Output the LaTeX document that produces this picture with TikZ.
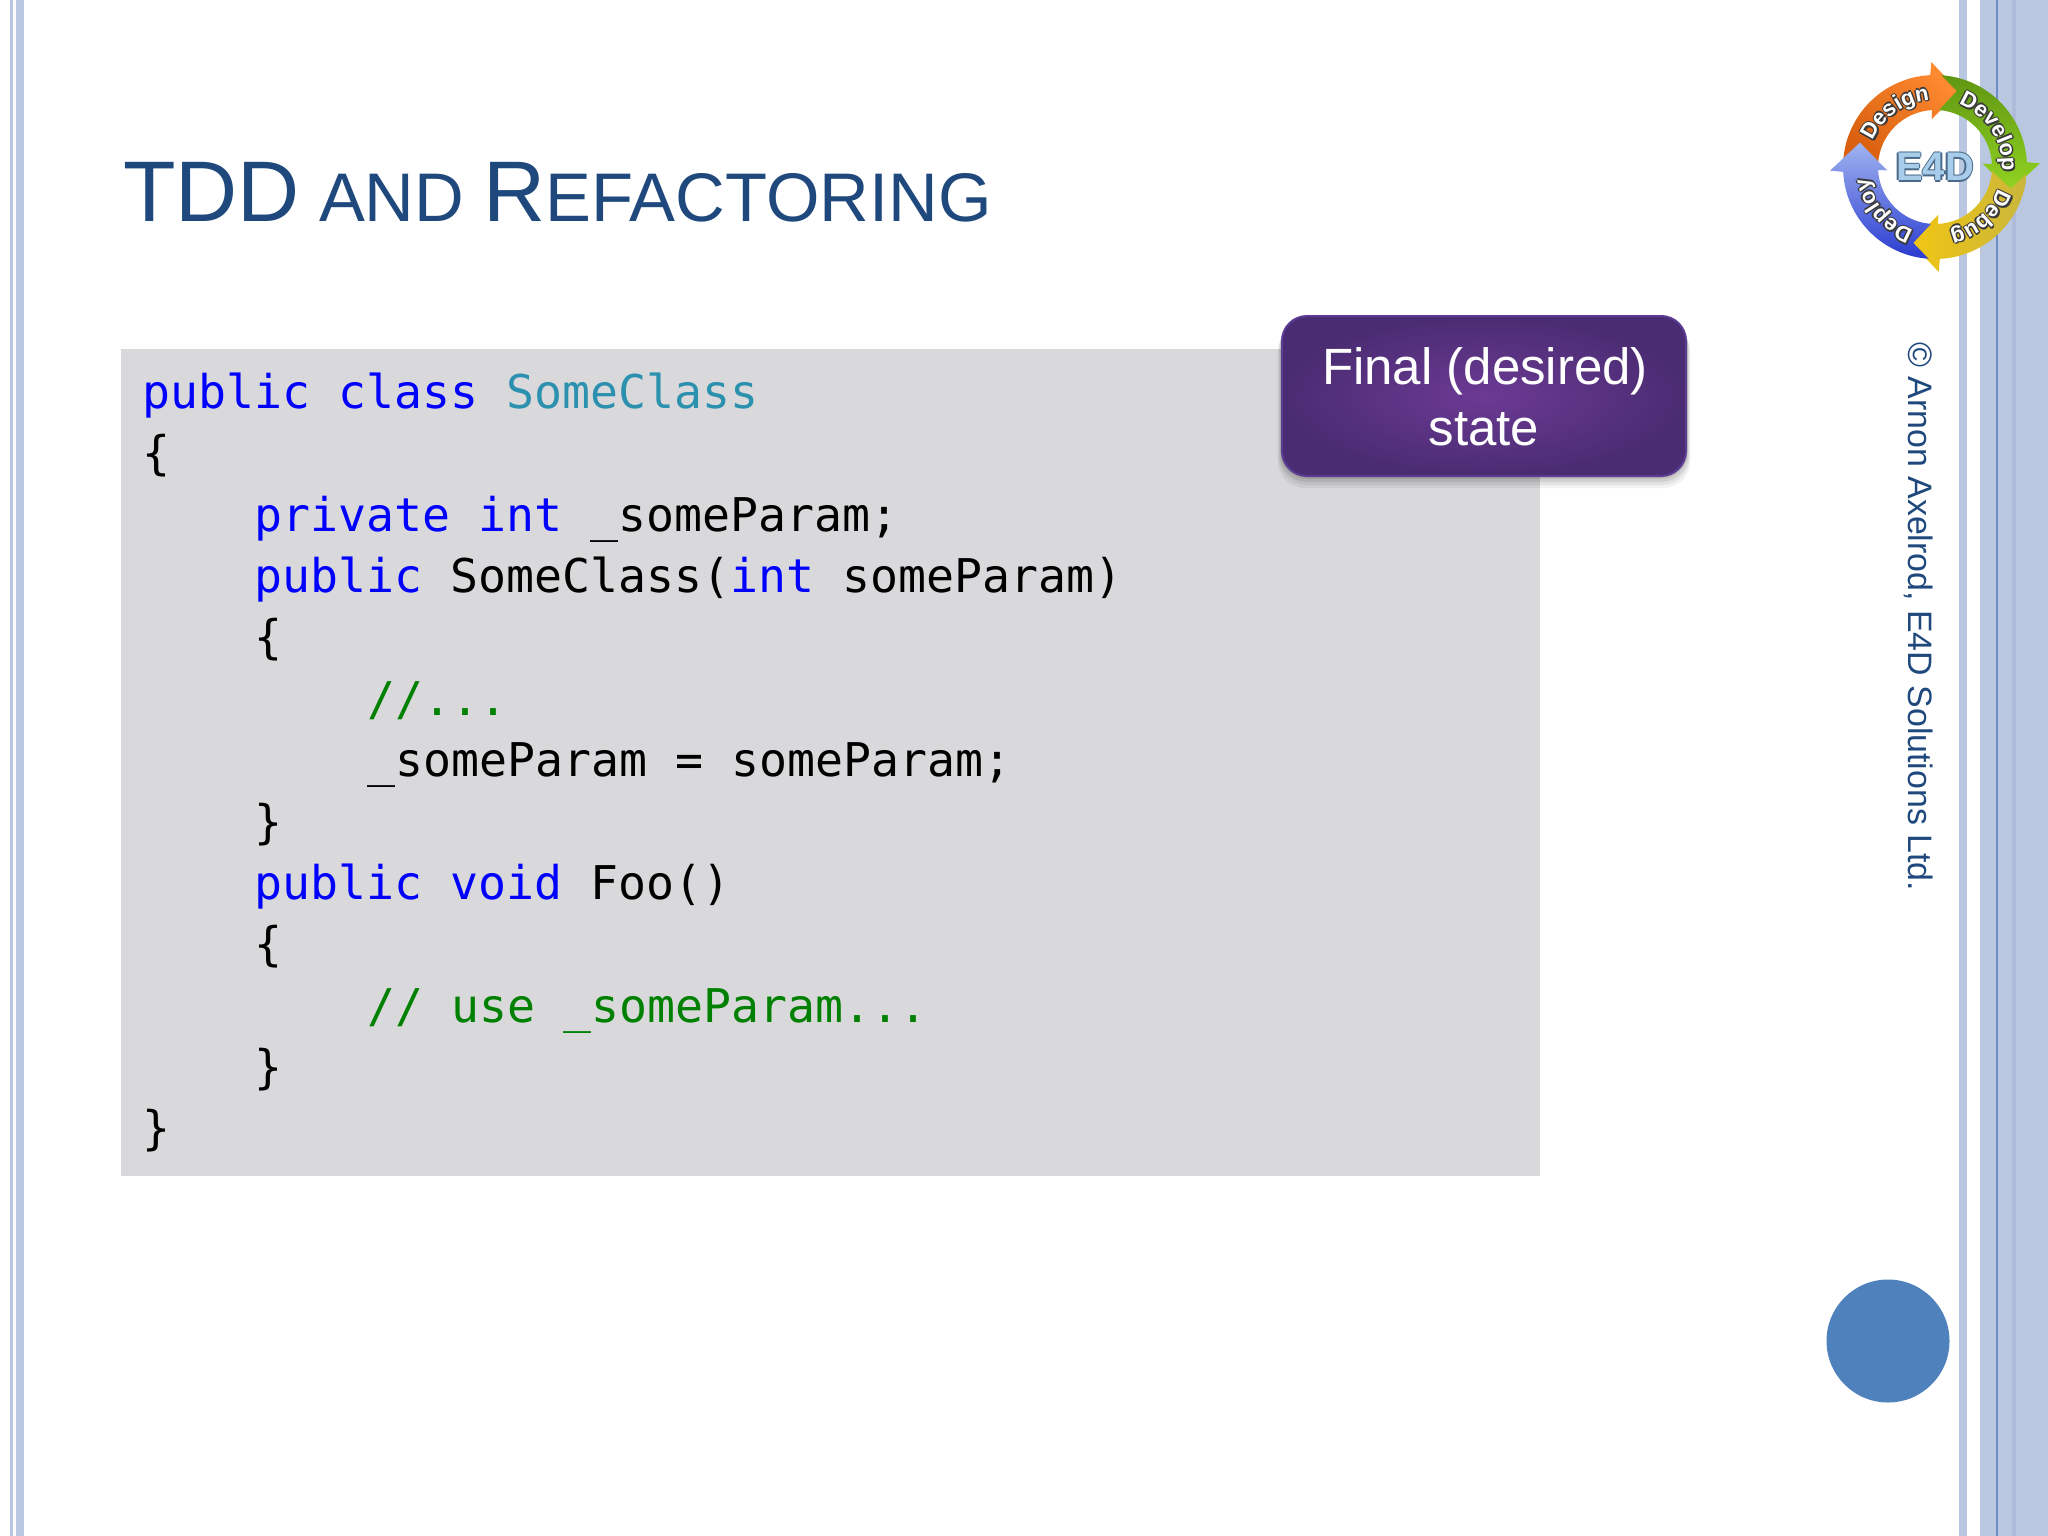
\documentclass[tikz,border=0pt]{standalone}
\usepackage{fontspec}
\usetikzlibrary{decorations.text}
\setmainfont{Liberation Sans}
\newfontfamily\codefam{DejaVu Sans Mono}
\newfontfamily\ringfam{Liberation Sans}[BoldFont={Liberation Sans Bold}]
\definecolor{stripe}{HTML}{B9C8E0}
\definecolor{stripeline}{HTML}{6E8CC8}
\definecolor{stripedark}{HTML}{AEBCD9}
\definecolor{titleblue}{HTML}{1F497D}
\definecolor{codebg}{HTML}{D9D9DB}
\definecolor{kwblue}{HTML}{0000FF}
\definecolor{tyteal}{HTML}{2B91AF}
\definecolor{cmgreen}{HTML}{008000}
\definecolor{purpin}{HTML}{6C3A94}
\definecolor{purpout}{HTML}{4A2C72}
\definecolor{purpedge}{HTML}{5C3C92}
\definecolor{dotblue}{HTML}{4F81BD}
\definecolor{ringshadow}{HTML}{3A3A3A}
\definecolor{orangehi}{HTML}{FF8A30}
\definecolor{orangelo}{HTML}{D9600F}
\definecolor{greenlo}{HTML}{5F9612}
\definecolor{greenhi}{HTML}{92D422}
\definecolor{yellowhi}{HTML}{F2C612}
\definecolor{yellowlo}{HTML}{C9B63C}
\definecolor{bluehi}{HTML}{A0B4F0}
\definecolor{bluelo}{HTML}{2A3BD0}
\definecolor{logoedge}{HTML}{4A6A8A}
\definecolor{logofill}{HTML}{A8CDEB}
\newcommand{\kw}[1]{\textcolor{kwblue}{#1}}
\newcommand{\ty}[1]{\textcolor{tyteal}{#1}}
\newcommand{\cm}[1]{\textcolor{cmgreen}{#1}}
\newcommand{\ringarrow}[2]{%
  \path[#2] ({176+#1}:92) arc[start angle={176+#1},end angle={93+#1},radius=92]
    -- ({92+#1}:105) -- ({72+#1}:79) -- ({94+#1}:48) -- ({93+#1}:57)
    arc[start angle={93+#1},end angle={176+#1},radius=57] -- ({164+#1}:79) -- cycle;}
\newcommand{\ringword}[2]{%
  \foreach \dx/\dy in {-1.5/0,1.5/0,0/-1.5,0/1.5,1.3/-1.3}{%
    \begin{scope}[shift={(\dx,\dy)}]
    \path[decorate,decoration={text along path,text align=center,
      text={|\ringfam\bfseries\fontsize{22}{24}\selectfont\color{ringshadow}|#2}}]
      ({#1+70}:67) arc[start angle={#1+70},end angle={#1-70},radius=67];
    \end{scope}}%
  \path[decorate,decoration={text along path,text align=center,
      text={|\ringfam\bfseries\fontsize{22}{24}\selectfont\color{white}|#2}}]
      ({#1+70}:67) arc[start angle={#1+70},end angle={#1-70},radius=67];}
\tikzset{
  codeline/.style={anchor=base west,inner sep=0pt,text=black,
    font=\codefam\fontsize{46.5}{50}\selectfont},
  stripefill/.style={fill=stripe,draw=none},
  titletext/.style={anchor=base west,inner sep=0pt,text=titleblue},
  calloutbox/.style={rounded corners=25pt,inner color=purpin,outer color=purpout,draw=purpedge,line width=2pt},
  callouttext/.style={anchor=base,inner sep=0pt,text=white,font=\fontsize{51}{54}\selectfont},
  sidetext/.style={anchor=base west,rotate=-90,inner sep=0pt,text=titleblue,font=\fontsize{33.9}{36}\selectfont},
}
\begin{document}
\begin{tikzpicture}[x=1pt,y=-1pt]
\useasboundingbox (0,0) rectangle (2048,1536);
\fill[white] (0,0) rectangle (2048,1536);
% side stripes
\path[stripefill] (10,0) rectangle (13,1536);
\path[stripefill] (16,0) rectangle (24,1536);
\path[stripefill] (1959,0) rectangle (1967,1536);
\path[stripefill] (1980,0) rectangle (2048,1536);
\fill[stripeline] (1996,0) rectangle (1998,1536);
\fill[stripedark] (2012,0) rectangle (2016,1536);
% title
\node[titletext] (title) at (123,221) {\fontsize{86}{90}\selectfont TDD\fontsize{68.8}{72}\selectfont{} AND \fontsize{86}{90}\selectfont R\fontsize{68.8}{72}\selectfont EFACTORING};
% code panel
\fill[codebg] (121,349) rectangle (1540,1176);
\node[codeline] (l1) at (142,408) {\kw{public class} \ty{SomeClass}};
\node[codeline] (l2) at (142,469) {\{};
\node[codeline] (l3) at (254,531) {\kw{private int} \_someParam;};
\node[codeline] (l4) at (254,592) {\kw{public} SomeClass(\kw{int} someParam)};
\node[codeline] (l5) at (254,653) {\{};
\node[codeline] (l6) at (367,715) {\cm{//...}};
\node[codeline] (l7) at (367,776) {\_someParam = someParam;};
\node[codeline] (l8) at (254,838) {\}};
\node[codeline] (l9) at (254,899) {\kw{public void} Foo()};
\node[codeline] (l10) at (254,960) {\{};
\node[codeline] (l11) at (367,1022) {\cm{// use \_someParam...}};
\node[codeline] (l12) at (254,1083) {\}};
\node[codeline] (l13) at (142,1144) {\}};
% callout
\foreach \o/\a in {2/0.10,5/0.08,8/0.06,11/0.05}{
  \fill[black,opacity=\a,rounded corners=27pt] (1281-\o*0.3,315+\o) rectangle (1687+\o*0.3,477+\o);
}
\path[calloutbox] (1282,316) rectangle (1686,476);
\node[callouttext] (c1) at (1485,384) {Final (desired)};
\node[callouttext] (c2) at (1484,445) {state};
% side credit
\node[sidetext] (credit) at (1908,342) {© Arnon Axelrod, E4D Solutions Ltd.};
% dot
\fill[dotblue] (1888,1341) circle[radius=61.5];
% logo
\begin{scope}[shift={(1935,167)},x=1pt,y=1pt]
  \ringarrow{0}{top color=orangehi,bottom color=orangelo,shading angle=-45}
  \ringarrow{-90}{top color=greenlo,bottom color=greenhi,shading angle=0}
  \ringarrow{-180}{left color=yellowhi,right color=yellowlo}
  \ringarrow{-270}{top color=bluehi,bottom color=bluelo,shading angle=0}
  \ringword{126}{Design}
  \ringword{33}{Develop}
  \ringword{-48}{Debug}
  \ringword{-140}{Deploy}
  \foreach \dx/\dy [count=\i] in {-1.5/0,1.5/0,0/-1.5,0/1.5}{
    \node[inner sep=0pt,text=logoedge,font=\bfseries\fontsize{40}{42}\selectfont] (e\i) at (\dx,\dy) {E4D};
  }
  \node[inner sep=0pt,text=logofill,font=\bfseries\fontsize{40}{42}\selectfont] (e4d) at (0,0) {E4D};
\end{scope}
\end{tikzpicture}
\end{document}
